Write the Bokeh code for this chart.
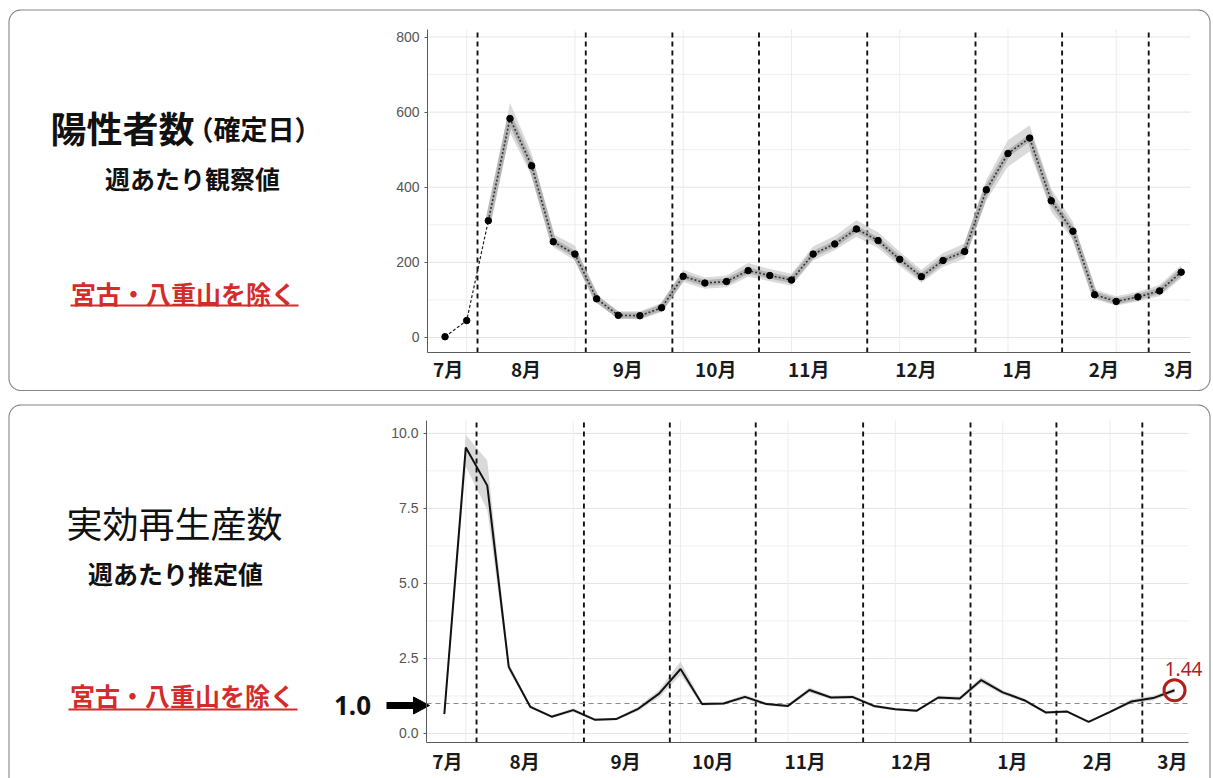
import numpy as np
from bokeh.plotting import figure
from bokeh.models import (Range1d, FixedTicker, CustomJSTickFormatter, NumeralTickFormatter,
                          LinearAxis, ColumnDataSource)
from bokeh.core.properties import value
from bokeh.layouts import column
from bokeh.embed import file_html
from bokeh.resources import INLINE

# ---------------- data ----------------
weeks = list(range(35))
cases = [2, 45, 311, 583, 457, 255, 222, 103, 59, 58, 79, 163, 145, 149, 178, 165, 153,
         222, 249, 289, 258, 208, 162, 205, 229, 393, 490, 531, 364, 283, 114, 96, 108, 124, 174]
# uncertainty band for cases (from the 3rd week on)
cases_lo = [295, 545, 430, 240, 205, 92, 50, 48, 68, 148, 130, 134, 162, 150, 138,
            205, 232, 268, 238, 190, 146, 188, 210, 365, 455, 495, 335, 260, 102, 85, 96, 110, 158]
cases_hi = [325, 625, 490, 275, 245, 115, 70, 70, 92, 180, 160, 165, 198, 182, 170,
            242, 270, 312, 280, 228, 180, 225, 250, 420, 525, 565, 395, 308, 128, 110, 122, 140, 192]

rt = [0.65, 9.53, 8.26, 2.22, 0.89, 0.56, 0.78, 0.46, 0.48, 0.81, 1.33, 2.15, 0.98, 1.0, 1.22,
      0.98, 0.92, 1.45, 1.2, 1.22, 0.92, 0.81, 0.76, 1.2, 1.17, 1.78, 1.37, 1.11, 0.7, 0.73,
      0.39, 0.72, 1.07, 1.18, 1.44]
rt_lo = [0.45, 8.9, 7.45, 2.1, 0.85, 0.52, 0.72, 0.42, 0.44, 0.74, 1.2, 1.95, 0.93, 0.95, 1.15,
         0.93, 0.87, 1.37, 1.14, 1.16, 0.87, 0.77, 0.72, 1.14, 1.11, 1.68, 1.3, 1.05, 0.66, 0.69,
         0.36, 0.68, 1.0, 1.1, 1.36]
rt_hi = [0.85, 9.95, 9.1, 2.35, 0.95, 0.6, 0.84, 0.5, 0.52, 0.88, 1.45, 2.4, 1.04, 1.05, 1.29,
         1.03, 0.97, 1.53, 1.26, 1.28, 0.97, 0.85, 0.8, 1.26, 1.23, 1.88, 1.44, 1.17, 0.74, 0.77,
         0.42, 0.77, 1.15, 1.26, 1.52]

month_labels = ["7月", "8月", "9月", "10月", "11月", "12月", "1月", "2月", "3月"]
month_pos = [0.14, 3.74, 8.44, 12.5, 16.8, 21.75, 26.45, 30.43, 33.9]
month_dividers = [1.5, 6.5, 10.5, 14.5, 19.5, 24.5, 28.5, 32.5]
xgrid_pos = [1, 6, 11, 16, 21, 26, 31]

cases_ticks = [0, 200, 400, 600, 800]
cases_minor = [100, 300, 500, 700]
rt_ticks = [0, 2.5, 5.0, 7.5, 10.0]
rt_minor = [1.25, 3.75, 6.25, 8.75]
rt_reference = 1.0

JP = "Noto Sans CJK JP"
RED = "#d42b2b"
DARKRED = "#b0201c"
W = 1213


def rounded_path(x0, y0, x1, y1, r, n=14):
    xs, ys = [], []
    for cx, cy, a0, a1 in [(x1 - r, y0 + r, -90, 0), (x1 - r, y1 - r, 0, 90),
                           (x0 + r, y1 - r, 90, 180), (x0 + r, y0 + r, 180, 270)]:
        t = np.radians(np.linspace(a0, a1, n))
        xs += list(cx + r * np.cos(t))
        ys += list(cy + r * np.sin(t))
    return xs + [xs[0]], ys + [ys[0]]


def make_panel(H, xlim, ylim, fbox, yticks, yminor, yfmt=None, xstandoff=4):
    """Figure whose frame fills the whole canvas; the chart area is fbox (pixels)."""
    fl, fr, ft, fb = fbox
    kx = (xlim[1] - xlim[0]) / (fr - fl)
    ky = (ylim[1] - ylim[0]) / (fb - ft)
    p = figure(width=W, height=H,
               x_range=Range1d(xlim[0] - fl * kx, xlim[1] + (W - fr) * kx),
               y_range=Range1d(ylim[0] - (H - fb) * ky, ylim[1] + ft * ky),
               x_axis_location=None, y_axis_location=None, title_location=None,
               output_backend="svg", toolbar_location=None, min_border=0)
    p.extra_x_ranges = {"px": Range1d(0, W)}
    p.extra_y_ranges = {"px": Range1d(H, 0)}
    p.outline_line_color = None
    p.background_fill_color = "white"
    p.border_fill_color = "white"
    p.grid.visible = False

    # grid lines inside the chart area
    gy = yticks + yminor
    cols = ["#e4e4e4"] * len(yticks) + ["#efefef"] * len(yminor)
    p.segment(x0=[xlim[0]] * len(gy), x1=[xlim[1]] * len(gy), y0=gy, y1=gy,
              line_color=cols, line_width=1)
    p.segment(x0=xgrid_pos, x1=xgrid_pos, y0=[ylim[0]] * len(xgrid_pos),
              y1=[ylim[1]] * len(xgrid_pos), line_color="#ececec", line_width=1)

    xaxis = LinearAxis(fixed_location=ylim[0], bounds=xlim,
                       ticker=FixedTicker(ticks=month_pos),
                       formatter=CustomJSTickFormatter(args=dict(names=month_labels),
                                                       code="return names[index];"))
    xaxis.major_tick_line_color = None
    xaxis.major_tick_out = 0
    xaxis.major_tick_in = 0
    xaxis.minor_tick_line_color = None
    xaxis.major_label_text_font = JP
    xaxis.major_label_text_font_style = "bold"
    xaxis.major_label_text_font_size = "19px"
    xaxis.major_label_text_color = "#1a1a1a"
    xaxis.major_label_standoff = xstandoff
    xaxis.axis_line_color = "#5a5a5a"
    p.add_layout(xaxis, "below")

    yaxis = LinearAxis(fixed_location=xlim[0], bounds=ylim,
                       ticker=FixedTicker(ticks=yticks, minor_ticks=yminor))
    if yfmt is not None:
        yaxis.formatter = yfmt
    yaxis.major_label_text_font = "Liberation Sans"
    yaxis.major_label_text_font_size = "14px"
    yaxis.major_label_text_color = "#555555"
    yaxis.axis_line_color = "#5a5a5a"
    yaxis.major_tick_line_color = "#5a5a5a"
    yaxis.major_tick_in = 0
    yaxis.major_tick_out = 3
    yaxis.minor_tick_line_color = None
    yaxis.major_label_standoff = 4
    p.add_layout(yaxis, "left")
    return p


def dividers(p, ylim):
    n = len(month_dividers)
    p.segment(x0=month_dividers, x1=month_dividers, y0=[ylim[0]] * n, y1=[ylim[1]] * n,
              line_color="#111111", line_width=1.9, line_dash="5 4")


def ptext(p, x, y, s, size, bold=True, color="#111111", align="center", font=JP):
    p.text(x=[x], y=[y], text=[s], x_range_name="px", y_range_name="px",
           text_font=value(font), text_font_size=value(size),
           text_font_style="bold" if bold else "normal", text_color=color,
           text_align=align, text_baseline="middle")


def panel_frame(p, y0, y1):
    bx, by = rounded_path(8.5, y0, 1209.5, y1, 12)
    p.line(x=bx, y=by, x_range_name="px", y_range_name="px", line_color="#858585", line_width=1.1)


# ---------------- top chart ----------------
xlim1, ylim1 = (-0.81, 34.43), (-40, 820)
p1 = make_panel(396, xlim1, ylim1, (427, 1190, 29, 352), cases_ticks, cases_minor, xstandoff=2)
panel_frame(p1, 9.5, 390)

src_band = ColumnDataSource(dict(x=weeks[2:], lo=cases_lo, hi=cases_hi, y=cases[2:]))
p1.varea(x="x", y1="lo", y2="hi", source=src_band, fill_color="#d6d6d6", fill_alpha=0.9)
dividers(p1, ylim1)
p1.line(x="x", y="y", source=src_band, line_color="#a9a9a9", line_width=6, line_alpha=0.8)
p1.line(x="x", y="y", source=src_band, line_color="#333333", line_width=1.6, line_dash="2 2")
p1.line(x=weeks[:3], y=cases[:3], line_color="#222222", line_width=1.2, line_dash="3 2")
p1.scatter(x=weeks, y=cases, size=6.5, color="black")

ptext(p1, 50, 126, "陽性者数", "36px", align="left")
ptext(p1, 186, 128, "（確定日）", "27px", align="left")
ptext(p1, 192, 177, "週あたり観察値", "25px")
ptext(p1, 183, 292, "宮古・八重山を除く", "25px", color=RED)
p1.segment(x0=[70], x1=[298], y0=[305], y1=[305], x_range_name="px", y_range_name="px",
           line_color=RED, line_width=2)

# ---------------- bottom chart ----------------
xlim2, ylim2 = (-0.83, 34.65), (-0.3, 10.43)
p2 = make_panel(382, xlim2, ylim2, (426, 1188, 24, 346), rt_ticks, rt_minor,
                yfmt=NumeralTickFormatter(format="0.0"), xstandoff=4)
panel_frame(p2, 8.5, 420)

p2.varea(x=weeks, y1=rt_lo, y2=rt_hi, fill_color="#d0d0d0", fill_alpha=0.8)
dividers(p2, ylim2)
p2.segment(x0=[xlim2[0]], x1=[xlim2[1]], y0=[rt_reference], y1=[rt_reference],
           line_color="#8a8a8a", line_width=1.2, line_dash="5 4")
p2.line(x=weeks, y=rt, line_color="#111111", line_width=2)
p2.scatter(x=[weeks[-1]], y=[rt[-1]], marker="circle", size=21, fill_color=None,
           line_color=DARKRED, line_width=3)
p2.text(x=[weeks[-1]], y=[rt[-1]], text=[f"{rt[-1]:.2f}"], x_offset=9, y_offset=-21,
        text_font=value("Noto Sans"), text_font_size=value("19px"), text_color=DARKRED,
        text_align="center", text_baseline="middle")

ptext(p2, 174, 125, "実効再生産数", "36px", bold=False)
ptext(p2, 175, 176, "週あたり推定値", "25px")
ptext(p2, 182, 298, "宮古・八重山を除く", "25px", color=RED)
p2.segment(x0=[68], x1=[297], y0=[313], y1=[313], x_range_name="px", y_range_name="px",
           line_color=RED, line_width=2)
ptext(p2, 352, 309, "1.0", "26px", font="Noto Sans")
p2.segment(x0=[386], x1=[415], y0=[309], y1=[309], x_range_name="px", y_range_name="px",
           line_color="black", line_width=7)
p2.patch(x=[413, 429, 413], y=[300.5, 309, 317.5], x_range_name="px", y_range_name="px",
         fill_color="black", line_color="black")

layout = column(p1, p2)
open("out.html", "w").write(file_html(layout, INLINE))
